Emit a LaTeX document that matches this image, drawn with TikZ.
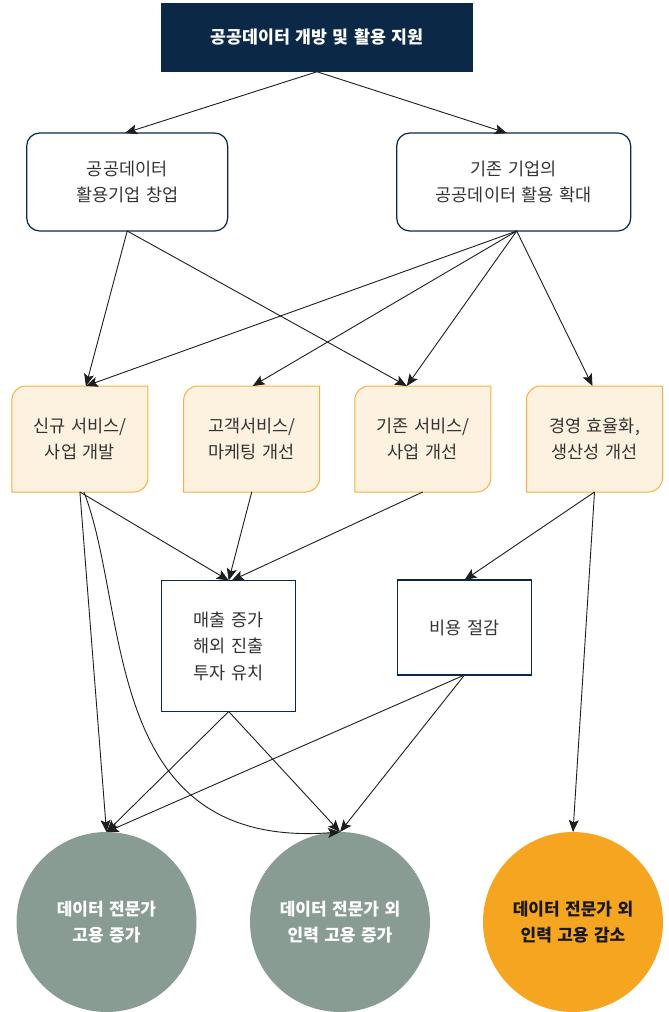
\documentclass[tikz,border=0pt]{standalone}
\usepackage{fontspec}
\setmainfont{Noto Sans CJK KR}[WordSpace=1.4]
\usetikzlibrary{arrows.meta,backgrounds}
\definecolor{navy}{HTML}{0B2947}
\definecolor{ofill}{HTML}{FDF2E0}
\definecolor{oline}{HTML}{F5B040}
\definecolor{sage}{HTML}{889C94}
\definecolor{amber}{HTML}{F6A521}
\definecolor{txt}{HTML}{333333}
\definecolor{edge}{HTML}{1E1E1E}
\tikzset{
  base/.style={inner sep=0pt,outer sep=0pt,align=center,font=\fontsize{17.5}{26.5}\selectfont,text=txt},
  topbox/.style={base,fill=navy,text=white,font=\fontsize{17.3}{26}\selectfont\bfseries,minimum width=312pt,minimum height=69pt},
  rbox/.style={base,draw=navy,line width=1.2pt,rounded corners=13pt,fill=white,minimum height=98pt},
  obox/.style={base,minimum width=136pt,minimum height=106pt},
  oshape/.style={draw=oline,fill=ofill,line width=1pt},
  sbox/.style={base,draw=navy,line width=1.2pt,fill=white,minimum width=134pt},
  gcirc/.style={base,circle,fill=sage,minimum size=180pt,text=white,font=\fontsize{17}{26}\selectfont\bfseries},
  acirc/.style={base,circle,fill=amber,minimum size=180pt,text=black!90,font=\fontsize{17}{26}\selectfont\bfseries},
  arr/.style={draw=edge,line width=0.9pt,-{Stealth[length=12pt,width=10pt,inset=2.5pt]}}
}
\begin{document}
\begin{tikzpicture}[x=1pt,y=-1pt]
\useasboundingbox (0,0) rectangle (669,1012);
% nodes
\node[topbox] (top) at (317,37.25) {공공데이터 개방 및 활용 지원};
\node[rbox,minimum width=201pt] (lb) at (127.2,182) {공공데이터\\활용기업 창업};
\node[rbox,minimum width=234pt] (rb) at (513.7,182) {기존 기업의\\공공데이터 활용 확대};
\node[obox] (b1) at (79.9,439) {신규 서비스/\\사업 개발};
\node[obox] (b2) at (251.7,439) {고객서비스/\\마케팅 개선};
\node[obox] (b3) at (422.8,439) {기존 서비스/\\사업 개선};
\node[obox] (b4) at (594.5,439) {경영 효율화,\\생산성 개선};
\node[sbox,minimum height=131pt] (m) at (228.7,646) {매출 증가\\해외 진출\\투자 유치};
\node[sbox,minimum height=95pt] (v) at (464.5,627.5) {비용 절감};
\node[gcirc] (c1) at (106.5,922) {데이터 전문가\\고용 증가};
\node[gcirc] (c2) at (340,922) {데이터 전문가 외\\인력 고용 증가};
\node[acirc] (c3) at (573,922) {데이터 전문가 외\\인력 고용 감소};
% orange box shapes
\begin{pgfonlayer}{background}
\fill[white] (0,0) rectangle (669,1012);
\foreach \n in {b1,b2,b3,b4}{
  \path[oshape] ([yshift=-14pt]\n.north west) arc[start angle=180,end angle=90,radius=14pt]
    -- (\n.north east) -- ([yshift=14pt]\n.south east)
    arc[start angle=0,end angle=-90,radius=14pt] -- (\n.south west) -- cycle;
}
\end{pgfonlayer}
% connectors
\draw[arr] (top.south) -- ([xshift=-2pt]lb.north);
\draw[arr] (top.south) -- ([xshift=-7pt]rb.north);
\draw[arr] (lb.south) -- ([xshift=6pt]b1.north);
\draw[arr] (lb.south) -- ([xshift=-16pt]b3.north);
\draw[arr] ([xshift=3pt]rb.south) -- ([xshift=6pt]b1.north);
\draw[arr] ([xshift=3pt]rb.south) -- ([xshift=1pt]b2.north);
\draw[arr] ([xshift=3pt]rb.south) -- ([xshift=-16pt]b3.north);
\draw[arr] ([xshift=3pt]rb.south) -- ([xshift=-2pt]b4.north);
\draw[arr] (b1.south) -- (m.north);
\draw[arr] (b2.south) -- (m.north);
\draw[arr] (b3.south) -- ([xshift=3pt]m.north);
\draw[arr] (b1.south) -- (c1.north);
\draw[arr] ([xshift=4pt]b1.south) .. controls (130,610) and (100,850) .. (c2.north);
\draw[arr] (b4.south) -- (v.north);
\draw[arr] (b4.south) -- (c3.north);
\draw[arr] (m.south) -- (c1.north);
\draw[arr] (m.south) -- (c2.north);
\draw[arr] (v.south) -- (c1.north);
\draw[arr] (v.south) -- (c2.north);
\end{tikzpicture}
\end{document}
